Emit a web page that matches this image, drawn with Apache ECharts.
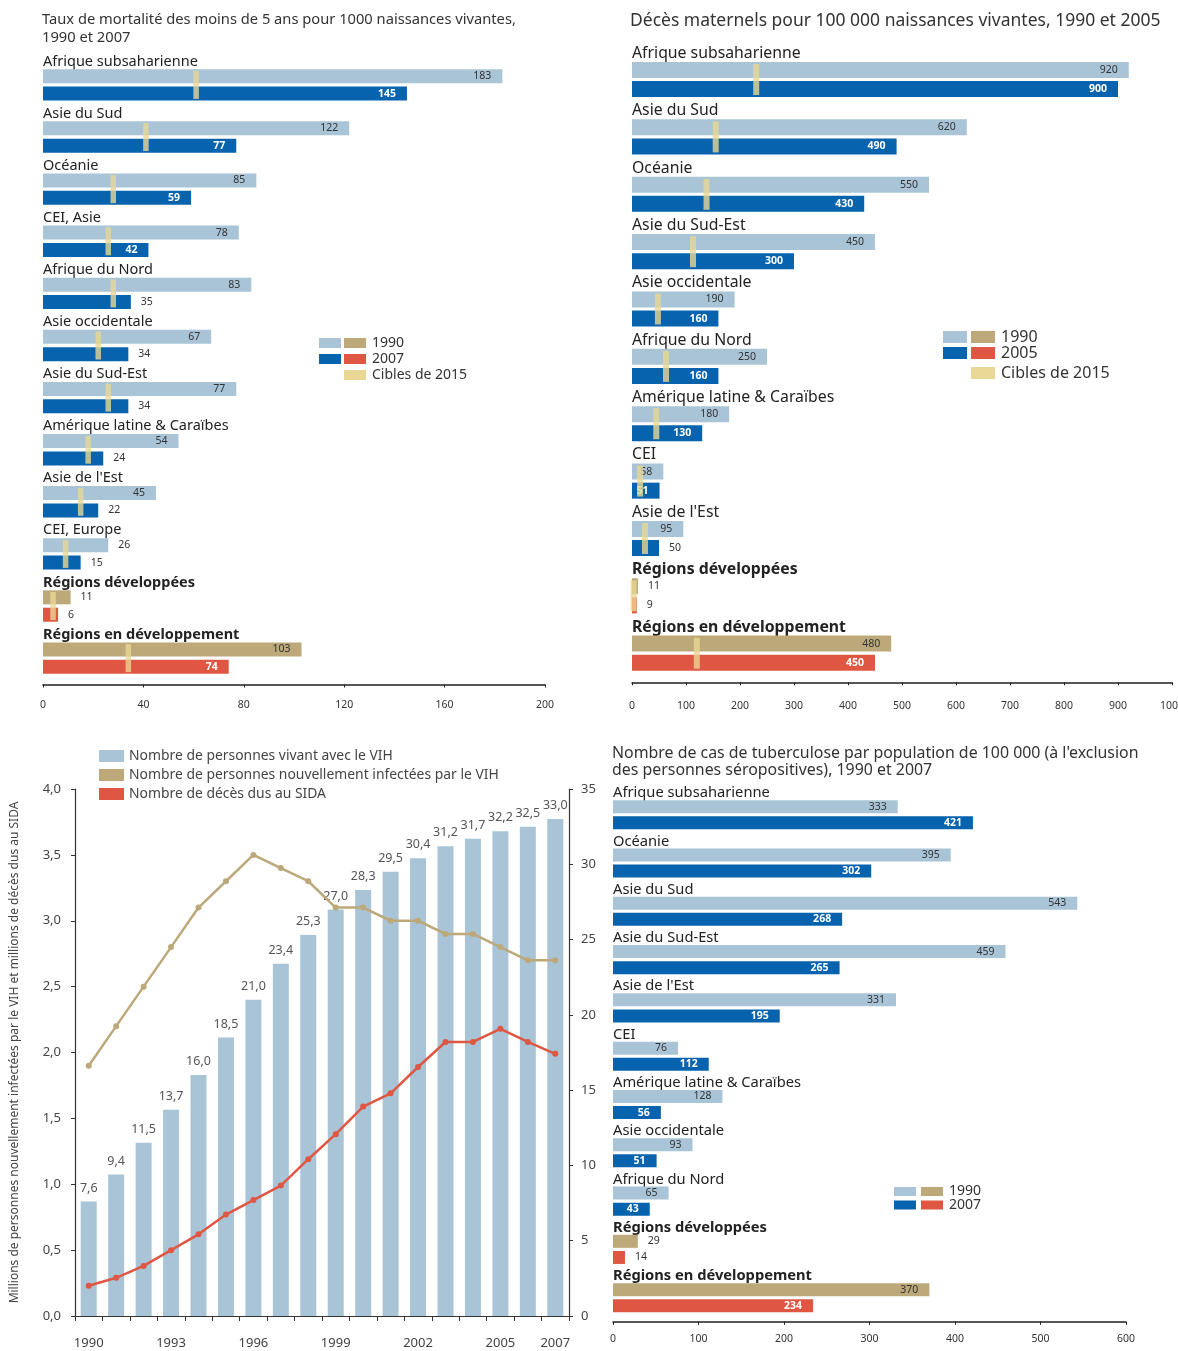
<!DOCTYPE html>
<html>
<head>
<meta charset="utf-8">
<script src="https://cdn.jsdelivr.net/npm/echarts@6/dist/echarts.min.js"></script>
<style>
html,body{margin:0;padding:0;background:#fff}
#c{width:1178px;height:1351px}
</style>
</head>
<body>
<div id="c"></div>
<script>
// mortalite des moins de 5 ans
var u5Regions = ['Afrique subsaharienne', 'Asie du Sud', 'Océanie', 'CEI, Asie', 'Afrique du Nord', 'Asie occidentale', 'Asie du Sud-Est', 'Amérique latine & Caraïbes', "Asie de l'Est", 'CEI, Europe', 'Régions développées', 'Régions en développement'];
var u5_1990 = [183, 122, 85, 78, 83, 67, 77, 54, 45, 26, 11, 103];
var u5_2007 = [145, 77, 59, 42, 35, 34, 34, 24, 22, 15, 6, 74];
var u5_cible = [61, 41, 28, 26, 28, 22, 26, 18, 15, 9, 4, 34];

// deces maternels
var mmRegions = ['Afrique subsaharienne', 'Asie du Sud', 'Océanie', 'Asie du Sud-Est', 'Asie occidentale', 'Afrique du Nord', 'Amérique latine & Caraïbes', 'CEI', "Asie de l'Est", 'Régions développées', 'Régions en développement'];
var mm_1990 = [920, 620, 550, 450, 190, 250, 180, 58, 95, 11, 480];
var mm_2005 = [900, 490, 430, 300, 160, 160, 130, 51, 50, 9, 450];
var mm_cible = [230, 155, 138, 113, 48, 63, 45, 15, 24, 3, 120];

// VIH / SIDA
var vihAnnees = ['1990', '1991', '1992', '1993', '1994', '1995', '1996', '1997', '1998', '1999', '2000', '2001', '2002', '2003', '2004', '2005', '2006', '2007'];
var vihVivant = [7.6, 9.4, 11.5, 13.7, 16.0, 18.5, 21.0, 23.4, 25.3, 27.0, 28.3, 29.5, 30.4, 31.2, 31.7, 32.2, 32.5, 33.0];
var vihNouveaux = [1.9, 2.2, 2.5, 2.8, 3.1, 3.3, 3.5, 3.4, 3.3, 3.1, 3.1, 3.0, 3.0, 2.9, 2.9, 2.8, 2.7, 2.7];
var vihDeces = [0.23, 0.29, 0.38, 0.5, 0.62, 0.77, 0.88, 0.99, 1.19, 1.38, 1.59, 1.69, 1.89, 2.08, 2.08, 2.18, 2.08, 1.99];

// tuberculose
var tbRegions = ['Afrique subsaharienne', 'Océanie', 'Asie du Sud', 'Asie du Sud-Est', "Asie de l'Est", 'CEI', 'Amérique latine & Caraïbes', 'Asie occidentale', 'Afrique du Nord', 'Régions développées', 'Régions en développement'];
var tb_1990 = [333, 395, 543, 459, 331, 76, 128, 93, 65, 29, 370];
var tb_2007 = [421, 302, 268, 265, 195, 112, 56, 51, 43, 14, 234];

var BLEU_CLAIR = '#a8c4d6', BLEU = '#0863ae', BEIGE = '#bca878', ROUGE = '#df5743', JAUNE = '#e8d795';
var FONT = "'Noto Sans', sans-serif";

function virgule(v, d) {
    return v.toFixed(d).replace('.', ',');
}

function barItem(v, color, fonce, seuil) {
    var dedans = v >= seuil;
    return {
        value: v,
        itemStyle: { color: color },
        label: {
            position: dedans ? 'insideRight' : 'right',
            distance: dedans ? 11 : 10,
            color: dedans && fonce ? '#fff' : '#333',
            fontWeight: dedans && fonce ? 'bold' : 'normal'
        }
    };
}

// un panneau de barres horizontales : 3 lignes par region (nom, annee 1, annee 2)
function panneau(xi, yi, regions, a, b, cible, cfg) {
    var n = regions.length, cats = [], s1 = [], s2 = [], sc = [];
    var agg = regions.slice(n - 2);
    for (var k = 0; k < n; k++) {
        var g = k >= n - 2;
        cats.push(regions[k], '', '');
        s1.push(null, barItem(a[k], g ? BEIGE : BLEU_CLAIR, false, cfg.seuil), null);
        s2.push(null, null, barItem(b[k], g ? ROUGE : BLEU, true, cfg.seuil));
        if (cible) sc.push([cible[k], 3 * k + 1]);
    }
    var xAxis = {
        gridIndex: cfg.grid, type: 'value', min: 0, max: cfg.max, interval: cfg.interval, offset: cfg.offset,
        axisLine: { show: true, lineStyle: { color: '#222', width: 1.5 } },
        axisTick: { show: true, length: 3, lineStyle: { color: '#222' } },
        axisLabel: { fontSize: 10.5, color: '#333', margin: cfg.margin, fontFamily: FONT,
            formatter: function (v) { return String(v); } },
        splitLine: { show: false }
    };
    var yAxis = {
        gridIndex: cfg.grid, type: 'category', inverse: true, data: cats,
        axisLine: { show: false }, axisTick: { show: false }, splitLine: { show: false },
        axisLabel: {
            inside: true, margin: 0, interval: 0, fontSize: cfg.fs, color: '#222', fontFamily: FONT,
            verticalAlign: 'middle', padding: [5, 0, 0, 0],
            formatter: function (v) { return agg.indexOf(v) >= 0 ? '{g|' + v + '}' : v; },
            rich: { g: { fontWeight: 'bold', fontSize: cfg.fs, color: '#222', fontFamily: FONT } }
        }
    };
    var lab = { show: true, fontSize: 10.5, fontFamily: FONT };
    var series = [
        { type: 'bar', xAxisIndex: xi, yAxisIndex: yi, data: s1, barWidth: cfg.barW, barGap: '-100%', label: lab, silent: true },
        { type: 'bar', xAxisIndex: xi, yAxisIndex: yi, data: s2, barWidth: cfg.barW, barGap: '-100%', label: lab, silent: true }
    ];
    if (cible) {
        series.push({
            type: 'scatter', xAxisIndex: xi, yAxisIndex: yi, data: sc, symbol: 'rect',
            symbolSize: cfg.cibleSize, symbolOffset: [0, cfg.slot / 2],
            itemStyle: { color: JAUNE }, z: 5, silent: true
        });
    }
    return { xAxis: xAxis, yAxis: yAxis, series: series };
}

var p0 = panneau(0, 0, u5Regions, u5_1990, u5_2007, u5_cible,
    { grid: 0, max: 200, interval: 40, offset: 9, margin: 15, seuil: 40, barW: 14, slot: 17.37, fs: 14.5, cibleSize: [5.5, 28] });
var p1 = panneau(1, 1, mmRegions, mm_1990, mm_2005, mm_cible,
    { grid: 1, max: 1000, interval: 100, offset: 10, margin: 18, seuil: 51, barW: 16, slot: 19.12, fs: 15.8, cibleSize: [6, 31] });
var p3 = panneau(3, 4, tbRegions, tb_1990, tb_2007, null,
    { grid: 3, max: 600, interval: 100, offset: 8, margin: 12, seuil: 40, barW: 13, slot: 16.1, fs: 14.7 });

var axeNoir = { show: true, lineStyle: { color: '#333', width: 1.2 } };

var vihX = {
    gridIndex: 2, type: 'category', data: vihAnnees,
    axisLine: axeNoir,
    axisTick: { show: true, interval: 0, length: 5, lineStyle: { color: '#333' } },
    axisLabel: {
        interval: function (i) { return i % 3 === 0 || i === 17; },
        fontSize: 13, color: '#444', margin: 21, fontFamily: FONT
    }
};
var vihYG = {
    gridIndex: 2, type: 'value', min: 0, max: 4, interval: 0.5, position: 'left',
    axisLine: axeNoir, axisTick: { show: true, length: 4, lineStyle: { color: '#333' } },
    axisLabel: { formatter: function (v) { return virgule(v, 1); }, fontSize: 13, color: '#444', margin: 14, fontFamily: FONT },
    splitLine: { show: false },
    name: 'Millions de personnes nouvellement infectées par le VIH et millions de décès dus au SIDA',
    nameLocation: 'middle', nameGap: 54, nameRotate: 90,
    nameTextStyle: { fontSize: 12, color: '#444', fontFamily: FONT }
};
var vihYD = {
    gridIndex: 2, type: 'value', min: 0, max: 35, interval: 5, position: 'right',
    axisLine: axeNoir, axisTick: { show: true, length: 4, lineStyle: { color: '#333' } },
    axisLabel: { fontSize: 13, color: '#444', margin: 12, fontFamily: FONT },
    splitLine: { show: false }
};

var vihSeries = [
    {
        name: 'Nombre de personnes vivant avec le VIH', type: 'bar', xAxisIndex: 2, yAxisIndex: 3,
        data: vihVivant, barWidth: 16, itemStyle: { color: BLEU_CLAIR },
        label: { show: true, position: 'top', distance: 7, fontSize: 12.5, color: '#555', fontFamily: FONT,
            formatter: function (p) { return virgule(p.value, 1); } }
    },
    {
        name: 'Nombre de personnes nouvellement infectées par le VIH', type: 'line', xAxisIndex: 2, yAxisIndex: 2,
        data: vihNouveaux, symbol: 'circle', symbolSize: 6,
        lineStyle: { color: BEIGE, width: 2.5 }, itemStyle: { color: BEIGE }, z: 4
    },
    {
        name: 'Nombre de décès dus au SIDA', type: 'line', xAxisIndex: 2, yAxisIndex: 2,
        data: vihDeces, symbol: 'circle', symbolSize: 6,
        lineStyle: { color: ROUGE, width: 2.5 }, itemStyle: { color: ROUGE }, z: 4
    }
];

// legendes a deux pastilles
var graphics = [];
function pastille(x, y, w, h, c) {
    graphics.push({ type: 'rect', shape: { x: x, y: y, width: w, height: h }, style: { fill: c } });
}
function texte(x, y, t, fs) {
    graphics.push({ type: 'text', x: x, y: y, style: { text: t, fill: '#333', fontSize: fs, fontFamily: FONT, verticalAlign: 'middle' } });
}
pastille(319, 338, 22, 10, BLEU_CLAIR); pastille(344, 338, 22, 10, BEIGE); texte(372, 343, '1990', 14);
pastille(319, 354, 22, 10, BLEU); pastille(344, 354, 22, 10, ROUGE); texte(372, 359, '2007', 14);
pastille(344, 370, 22, 10, JAUNE); texte(372, 375, 'Cibles de 2015', 14);

pastille(943, 331, 24, 12, BLEU_CLAIR); pastille(971, 331, 24, 12, BEIGE); texte(1001, 337, '1990', 16);
pastille(943, 347, 24, 12, BLEU); pastille(971, 347, 24, 12, ROUGE); texte(1001, 353, '2005', 16);
pastille(971, 367, 24, 12, JAUNE); texte(1001, 373, 'Cibles de 2015', 16);

pastille(894, 1187, 22, 9, BLEU_CLAIR); pastille(921, 1187, 22, 9, BEIGE); texte(949, 1191.5, '1990', 14);
pastille(894, 1200.5, 22, 9, BLEU); pastille(921, 1200.5, 22, 9, ROUGE); texte(949, 1205, '2007', 14);

var chart = echarts.init(document.getElementById('c'));
chart.setOption({
    animation: false,
    backgroundColor: '#fff',
    textStyle: { fontFamily: FONT },
    title: [
        { text: 'Taux de mortalité des moins de 5 ans pour 1000 naissances vivantes,\n1990 et 2007', left: 42, top: 11, padding: 0,
            textStyle: { fontSize: 14.7, fontWeight: 'normal', color: '#333', lineHeight: 18, fontFamily: FONT } },
        { text: 'Décès maternels pour 100 000 naissances vivantes, 1990 et 2005', left: 630, top: 11, padding: 0,
            textStyle: { fontSize: 17.5, fontWeight: 'normal', color: '#333', lineHeight: 21, fontFamily: FONT } },
        { text: "Nombre de cas de tuberculose par population de 100 000 (à l'exclusion\ndes personnes séropositives), 1990 et 2007", left: 612, top: 745, padding: 0,
            textStyle: { fontSize: 15.9, fontWeight: 'normal', color: '#333', lineHeight: 17, fontFamily: FONT } }
    ],
    legend: {
        left: 99, top: 749, padding: 0, orient: 'vertical', icon: 'rect', itemWidth: 25, itemHeight: 12, itemGap: 5,
        textStyle: { fontSize: 13.9, color: '#444', fontFamily: FONT },
        data: vihSeries.map(function (s) { return s.name; })
    },
    grid: [
        { left: 43, top: 50.2, width: 502, height: 625.3, outerBoundsMode: 'none' },
        { left: 632, top: 41.3, width: 540, height: 631, outerBoundsMode: 'none' },
        { left: 75, top: 789, width: 494, height: 527, outerBoundsMode: 'none' },
        { left: 613, top: 782.5, width: 513, height: 531.3, outerBoundsMode: 'none' }
    ],
    xAxis: [p0.xAxis, p1.xAxis, vihX, p3.xAxis],
    yAxis: [p0.yAxis, p1.yAxis, vihYG, vihYD, p3.yAxis],
    series: p0.series.concat(p1.series, vihSeries, p3.series),
    graphic: graphics
});
</script>
</body>
</html>
